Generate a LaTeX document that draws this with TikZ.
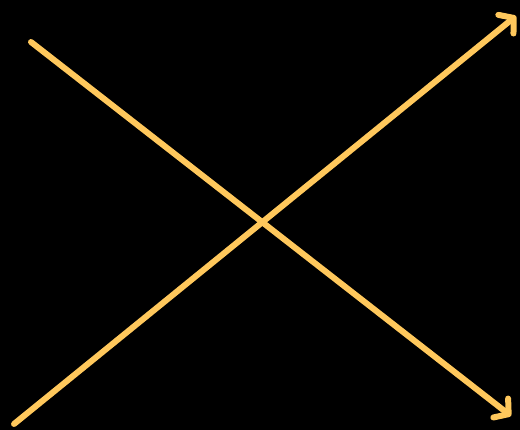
\documentclass[tikz,border=0pt]{standalone}
\usetikzlibrary{arrows.meta}
\definecolor{linegold}{RGB}{255,200,92}
\tikzset{
  ray/.style={draw=linegold, line width=6pt, line cap=round,
    -{Straight Barb[length=10pt,width=24pt,line cap=round,line join=round]}}
}
\begin{document}
\begin{tikzpicture}[x=1pt,y=-1pt]
  \fill[black] (0,0) rectangle (520,430);
  \useasboundingbox (0,0) rectangle (520,430);
  \coordinate (a1) at (31,42);
  \coordinate (a2) at (511,416);
  \coordinate (b1) at (14,424);
  \coordinate (b2) at (516,16);
  \draw[ray] (a1) -- (a2);
  \draw[ray] (b1) -- (b2);
\end{tikzpicture}
\end{document}
